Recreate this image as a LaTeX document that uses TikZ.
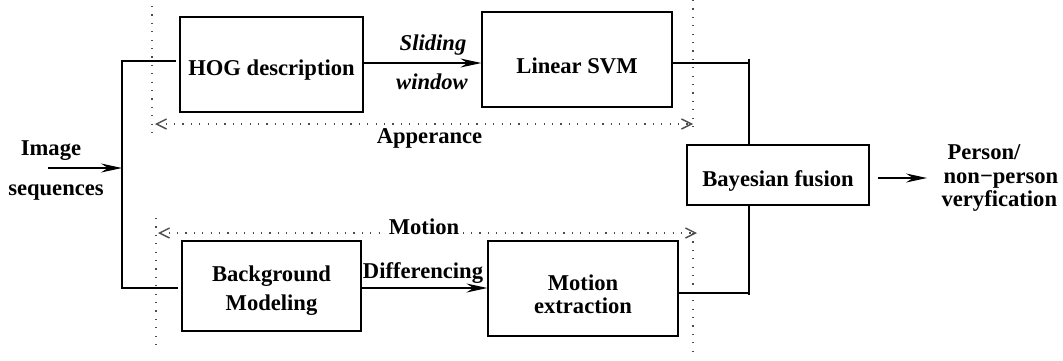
\documentclass[tikz,border=0pt]{standalone}
\usepackage{fontspec}
\setmainfont{Liberation Serif}
\usetikzlibrary{arrows.meta}
\def\txt{\fontsize{11.3}{11.3}\selectfont\bfseries}
\tikzset{
	blk/.style={draw, line width=0.6pt, inner sep=0pt, align=center, font=\txt, text depth=0pt},
	lbl/.style={inner sep=0pt, anchor=base, font=\txt},
	arr/.style={line width=0.6pt, -{Stealth[length=10.5pt,width=4.5pt,inset=3.5pt]}},
	dots/.style={line width=0.7pt, black!70, dash pattern=on 0.6pt off 3.6pt},
	span/.style={dots, {Straight Barb[length=5pt,width=5pt]}-{Straight Barb[length=5pt,width=5pt]}},
}

\begin{document}
\begin{tikzpicture}[x=0.5pt, y=-0.5pt, line width=0.6pt]
		%%%%% START %%%%%
		\useasboundingbox (0,0) rectangle (1063,360);
		
		\node[blk, minimum width=91.5pt, minimum height=47.5pt, text height=10.5pt] (hog) at (271.5,64.5) {HOG description};
		\node[blk, minimum width=95pt, minimum height=47.5pt, text height=13.8pt] (svm) at (577,59.5) {Linear SVM};
		\node[blk, minimum width=91pt, minimum height=30pt, text height=11pt] (bayes) at (778,175) {Bayesian fusion};
		\node[blk, minimum width=89.5pt, minimum height=45pt, text height=24pt] (bgm) at (271.5,286) {Background\\[3pt]Modeling};
		\node[blk, minimum width=95pt, minimum height=47.5pt, text height=24.5pt] (motx) at (583,288.5) {Motion\\extraction};
		
		% appearance / motion groups
		\draw[dots] (152,6) -- (152,137);
		\draw[dots] (693,0) -- (693,130);
		\draw[span] (155,124) -- (693,124);
		\draw[dots] (156,218) -- (156,348);
		\draw[dots] (693,233) -- (693,355);
		\draw[span] (158,233) -- (697,233);
		\node[lbl] (app) at (429.5,143) {Apperance};
		\node[lbl, fill=white, inner sep=1.5pt] (mtn) at (424,234) {Motion};
		
		\node[lbl] (img) at (51,155) {Image};
		\node[lbl] (seq) at (56,195) {sequences};
		\node[lbl, font=\txt\itshape] (sld) at (433,50) {Sliding};
		\node[lbl, font=\txt\itshape] (win) at (432,89) {window};
		\node[lbl] (dif) at (423,278) {Differencing};
		\node[blk, draw=none, align=left, anchor=west, text depth=, font=\fontsize{11.3}{11.6}\selectfont\bfseries] (res) at (941,178) {\hspace{3pt}Person/\\\hspace{1pt}non\textminus person\\veryfication};
		
		\coordinate (bt) at (122,61);
		\coordinate (bb) at (122,288);
		\coordinate (inp) at (48,168);
		\coordinate (jx) at (749,63);
		\coordinate (jb) at (749,293);
		\coordinate (outp) at (927,178);
		
		\draw[arr] (inp) -- (inp -| bt);
		\draw ([xshift=-1.5pt]hog.west |- bt) -- (bt) -- (bb) -- ([xshift=-1.5pt]bgm.west |- bb);
		\draw[arr] (hog.east |- jx) -- (svm.west |- jx);
		\draw[arr] (bgm.east |- bb) -- (motx.west |- bb);
		\draw (svm.east |- jx) -- (jx);
		\draw ([yshift=2pt]jx) -- (bayes.north -| jx);
		\draw (motx.east |- jb) -- (jb);
		\draw ([yshift=-1pt]jb) -- (bayes.south -| jx);
		\draw[arr] ([xshift=4pt]bayes.east |- outp) -- (outp);
		
		%%%%% END %%%%%
\end{tikzpicture}
\end{document}
